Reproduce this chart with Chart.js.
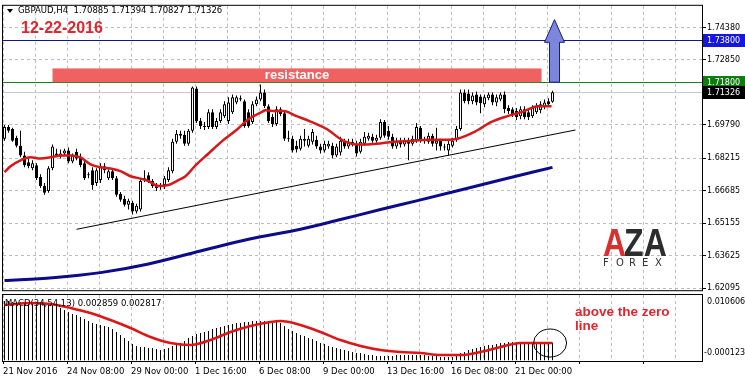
<!DOCTYPE html>
<html>
<head>
<meta charset="utf-8">
<title>GBPAUD H4</title>
<script src="https://cdn.jsdelivr.net/npm/chart.js@4.4.1/dist/chart.umd.min.js"></script>
<style>
  html, body { margin: 0; padding: 0; background: #fff; }
  #wrap { position: relative; width: 745px; height: 382px; overflow: hidden; }
  .pane { position: absolute; left: 0; width: 745px; }
  #main-pane { top: 0; height: 296px; }
  #macd-pane { top: 294px; height: 88px; }
</style>
</head>
<body>
<div id="wrap">
  <div class="pane" id="main-pane"><canvas id="main-chart"></canvas></div>
  <div class="pane" id="macd-pane"><canvas id="macd-chart"></canvas></div>
</div>
<script>
// GBPAUD H4 candles, left to right (bar 0 = 21 Nov 2016)
const open = [
  1.6914,1.6969,1.6960,1.6918,1.6881,1.6835,1.6803,1.6775,1.6789,1.6733,
  1.6691,1.6668,1.6775,1.6844,1.6830,1.6844,1.6858,1.6807,1.6853,1.6830,
  1.6798,1.6747,1.6765,1.6705,1.6719,1.6784,1.6728,1.6761,1.6728,1.6654,
  1.6631,1.6603,1.6612,1.6571,1.6580,1.6719,1.6742,1.6715,1.6696,1.6687,
  1.6696,1.6719,1.6761,1.6900,1.6937,1.6932,1.6890,1.6951,1.7150,1.6997,
  1.6974,1.6969,1.7039,1.6969,1.6997,1.7020,1.6997,1.7039,1.7085,1.7099,
  1.7090,1.7039,1.6993,1.7076,1.7099,1.7132,1.7067,1.7016,1.6983,1.7053,
  1.7034,1.6914,1.6914,1.6881,1.6867,1.6914,1.6881,1.6900,1.6909,1.6877,
  1.6858,1.6877,1.6881,1.6835,1.6849,1.6900,1.6877,1.6900,1.6890,1.6853,
  1.6890,1.6914,1.6923,1.6904,1.6918,1.6993,1.6951,1.6923,1.6877,1.6904,
  1.6886,1.6904,1.6890,1.6904,1.6965,1.6904,1.6900,1.6928,1.6890,1.6904,
  1.6877,1.6858,1.6881,1.6909,1.6960,1.7132,1.7127,1.7090,1.7122,1.7113,
  1.7076,1.7104,1.7122,1.7085,1.7099,1.7122,1.7058,1.7053,1.7044,1.7020,
  1.7053,1.7039,1.7020,1.7039,1.7048,1.7062,1.7090,1.70885
];
const high = [
  1.6979,1.6979,1.6965,1.6928,1.6951,1.6853,1.6821,1.6812,1.6798,1.6747,
  1.6705,1.6784,1.6886,1.6867,1.6863,1.6867,1.6872,1.6844,1.6867,1.6844,
  1.6812,1.6756,1.6779,1.6775,1.6798,1.6798,1.6770,1.6770,1.6738,1.6663,
  1.6645,1.6631,1.6622,1.6608,1.6724,1.6765,1.6756,1.6724,1.6705,1.6705,
  1.6738,1.6779,1.6914,1.6955,1.6951,1.6951,1.6960,1.7160,1.7160,1.7011,
  1.6993,1.7053,1.7053,1.7011,1.7053,1.7090,1.7109,1.7122,1.7118,1.7118,
  1.7099,1.7053,1.7090,1.7113,1.7169,1.7146,1.7076,1.7030,1.7067,1.7062,
  1.7048,1.6951,1.6928,1.6904,1.6928,1.6960,1.6928,1.6960,1.6928,1.6890,
  1.6904,1.6904,1.6895,1.6890,1.6923,1.6914,1.6914,1.6914,1.6904,1.6914,
  1.6946,1.6942,1.6937,1.6932,1.7006,1.7002,1.6974,1.6937,1.6918,1.6918,
  1.6918,1.6918,1.6928,1.6988,1.6974,1.6923,1.6942,1.6937,1.6965,1.6914,
  1.6890,1.6904,1.6918,1.6974,1.7146,1.7146,1.7146,1.7132,1.7136,1.7122,
  1.7122,1.7132,1.7132,1.7122,1.7132,1.7136,1.7071,1.7062,1.7058,1.7067,
  1.7067,1.7053,1.7071,1.7081,1.7090,1.7099,1.7104,1.71394
];
const low = [
  1.6904,1.6942,1.6900,1.6872,1.6826,1.6779,1.6775,1.6765,1.6719,1.6682,
  1.6650,1.6659,1.6765,1.6826,1.6821,1.6835,1.6798,1.6798,1.6812,1.6779,
  1.6719,1.6728,1.6673,1.6691,1.6705,1.6751,1.6719,1.6719,1.6640,1.6617,
  1.6594,1.6580,1.6557,1.6561,1.6571,1.6710,1.6705,1.6682,1.6668,1.6673,
  1.6677,1.6710,1.6751,1.6890,1.6914,1.6881,1.6881,1.6942,1.6988,1.6960,
  1.6955,1.6960,1.6960,1.6960,1.6988,1.7011,1.6983,1.7030,1.7076,1.7090,
  1.6965,1.6965,1.6983,1.7067,1.7090,1.7058,1.6988,1.6969,1.6974,1.7020,
  1.6904,1.6900,1.6849,1.6849,1.6858,1.6877,1.6872,1.6886,1.6867,1.6844,
  1.6849,1.6867,1.6821,1.6826,1.6835,1.6867,1.6867,1.6877,1.6830,1.6844,
  1.6881,1.6904,1.6895,1.6895,1.6909,1.6918,1.6909,1.6867,1.6867,1.6872,
  1.6877,1.6812,1.6881,1.6895,1.6895,1.6890,1.6890,1.6877,1.6858,1.6858,
  1.6858,1.6835,1.6872,1.6900,1.6951,1.7081,1.7076,1.7076,1.7071,1.7034,
  1.7062,1.7095,1.7071,1.7067,1.7090,1.7034,1.7030,1.7016,1.7002,1.7006,
  1.7006,1.7002,1.7011,1.7030,1.7034,1.7053,1.7067,1.70827
];
const close = [
  1.6969,1.6951,1.6904,1.6881,1.6835,1.6789,1.6784,1.6798,1.6728,1.6691,
  1.6659,1.6775,1.6877,1.6835,1.6844,1.6858,1.6807,1.6835,1.6821,1.6789,
  1.6728,1.6742,1.6696,1.6765,1.6784,1.6765,1.6761,1.6728,1.6650,1.6626,
  1.6603,1.6622,1.6571,1.6598,1.6715,1.6728,1.6715,1.6691,1.6682,1.6691,
  1.6728,1.6765,1.6900,1.6937,1.6928,1.6890,1.6951,1.7155,1.6997,1.6974,
  1.6969,1.7039,1.6969,1.6997,1.7039,1.7076,1.7085,1.7109,1.7109,1.7104,
  1.6974,1.6974,1.7076,1.7099,1.7132,1.7067,1.6997,1.6983,1.7053,1.7030,
  1.6914,1.6918,1.6858,1.6863,1.6914,1.6904,1.6914,1.6946,1.6877,1.6858,
  1.6890,1.6890,1.6835,1.6877,1.6904,1.6877,1.6900,1.6890,1.6844,1.6900,
  1.6923,1.6928,1.6904,1.6918,1.6993,1.6928,1.6923,1.6877,1.6904,1.6886,
  1.6904,1.6890,1.6914,1.6969,1.6904,1.6909,1.6928,1.6890,1.6904,1.6877,
  1.6872,1.6890,1.6904,1.6960,1.7132,1.7090,1.7090,1.7118,1.7085,1.7081,
  1.7109,1.7122,1.7085,1.7109,1.7122,1.7053,1.7044,1.7030,1.7016,1.7053,
  1.7016,1.7016,1.7062,1.7067,1.7076,1.7085,1.7076,1.71326
];

// moving averages (bar index -> price)
const maFastIdx = [0,1.5,4,6.5,9,11.5,14,16.5,19,21.5,24,26.5,29,31.5,33.5,36,38.5,41,43.5,45.25,47.75,51,54.25,57.75,61,64.25,65.25,67.75,69.75,73,76.25,80.5,84.75,88.75,93,97.25,102.25,105.75,110.75,113.25,117.5,121.75,125.75,130,133.25,136.75];
const maFastVal = [1.6756,1.6784,1.6812,1.6826,1.6821,1.6826,1.6835,1.6835,1.6826,1.6793,1.6779,1.6774,1.6761,1.6737,1.6728,1.6714,1.6691,1.6696,1.6719,1.6737,1.6788,1.6844,1.6900,1.6951,1.7006,1.7039,1.7048,1.7044,1.7044,1.7020,1.6997,1.6960,1.6904,1.6886,1.6890,1.6900,1.6904,1.6909,1.6909,1.6914,1.6946,1.6993,1.7020,1.7044,1.7067,1.7067];
const maSlowIdx = [0,12,24,36,49,61,74,84,94,103,114,124,137];
const maSlowVal = [1.6246,1.6259,1.6283,1.6324,1.6385,1.6440,1.6487,1.6533,1.6580,1.6621,1.6672,1.6719,1.6779];

// MACD(34,54,13): histogram per bar, signal line read at points
const macdMain = [
  0.00963,0.00963,0.00947,0.00947,0.00947,0.00947,0.00947,0.00931,0.00931,0.00931,
  0.00914,0.00914,0.00898,0.00882,0.00850,0.00817,0.00784,0.00752,0.00736,0.00703,
  0.00671,0.00638,0.00605,0.00589,0.00573,0.00557,0.00540,0.00508,0.00459,0.00411,
  0.00362,0.00313,0.00264,0.00232,0.00215,0.00215,0.00199,0.00199,0.00183,0.00167,
  0.00183,0.00199,0.00232,0.00264,0.00280,0.00313,0.00362,0.00394,0.00427,0.00443,
  0.00459,0.00475,0.00508,0.00524,0.00540,0.00557,0.00573,0.00589,0.00605,0.00605,
  0.00622,0.00622,0.00638,0.00638,0.00638,0.00638,0.00638,0.00638,0.00622,0.00605,
  0.00557,0.00508,0.00475,0.00443,0.00411,0.00394,0.00362,0.00345,0.00313,0.00280,
  0.00264,0.00232,0.00215,0.00199,0.00183,0.00167,0.00150,0.00134,0.00118,0.00118,
  0.00101,0.00085,0.00085,0.00069,0.00069,0.00069,0.00069,0.00069,0.00085,0.00085,
  0.00085,0.00085,0.00085,0.00085,0.00085,0.00085,0.00069,0.00069,0.00069,0.00053,
  0.00053,0.00053,0.00053,0.00085,0.00118,0.00134,0.00167,0.00183,0.00199,0.00215,
  0.00232,0.00248,0.00248,0.00264,0.00280,0.00280,0.00297,0.00297,0.00297,0.00297,
  0.00297,0.00297,0.00297,0.00297,0.00297,0.00297,0.00297,0.002859
];
const macdSignalIdx = [0,6.5,11.5,16.5,21.5,26.5,31.5,36.5,41.5,46.5,51.5,56.5,61.5,66.5,69,74,79,84,89,94,99,104,109,114,119,124,129,134,137];
const macdSignalVal = [0.00898,0.00931,0.00914,0.00850,0.00768,0.00654,0.00524,0.00378,0.00280,0.00248,0.00329,0.00459,0.00557,0.00622,0.00638,0.00573,0.00459,0.00329,0.00232,0.00167,0.00134,0.00118,0.00085,0.00085,0.00134,0.00215,0.00280,0.00280,0.002817];

// axes
const priceTicks = [1.62095, 1.63625, 1.65155, 1.66685, 1.68215, 1.69790, 1.71320, 1.72850, 1.74380];
const timeLabels = ['21 Nov 2016', '24 Nov 08:00', '29 Nov 00:00', '1 Dec 16:00', '6 Dec 08:00',
                    '9 Dec 00:00', '13 Dec 16:00', '16 Dec 08:00', '21 Dec 00:00'];
const macdLabels = ['0.010606', '-0.000123'];

// drawings on the chart
const levelValues = [1.73800, 1.71800, 1.71326];
const trendLine = [[18, 1.6487], [142.75, 1.6955]];
const resistance = { from: 12, to: 134.25, low: 1.7180, high: 1.7245 };
const arrowUp = { bar: 137.5, from: 1.7180, headBase: 1.7368, tip: 1.7475 };
const macdCircle = { bar: 136.4, value: 0.00280 };
const quote = 'GBPAUD,H4  1.70885 1.71394 1.70827 1.71326';
const macdTitle = 'MACD(34,54,13) 0.002859 0.002817';

const MT_FONT = '"DejaVu Sans", Tahoma, sans-serif';
const BOLD_FONT = '"Liberation Sans", Arial, sans-serif';
const GRID = '#bdbdbd';
const X_MIN = -0.375, X_MAX = 174.375;
const gridBars = Array.from({ length: 22 }, (_, k) => k * 8 - 0.375);
const levelStyles = [
  { line: '#14148c', box: '#1616e0' },
  { line: '#148414', box: '#0d7d0d' },
  { line: '#c8c8c8', box: '#000000' }
];

Chart.defaults.font.family = MT_FONT;
const bars = open.map((_, i) => i);

const mainOverlay = {
  id: 'mainOverlay',
  beforeDatasetsDraw(chart) {
    const { ctx, chartArea: a, scales: { x, y } } = chart;
    ctx.save();
    levelValues.forEach((v, k) => {
      const py = Math.round(y.getPixelForValue(v)) + 0.5;
      ctx.strokeStyle = levelStyles[k].line;
      ctx.lineWidth = 1;
      ctx.beginPath();
      ctx.moveTo(a.left, py);
      ctx.lineTo(a.right, py);
      ctx.stroke();
    });
    ctx.restore();
  },
  afterDatasetsDraw(chart) {
    const { ctx, scales: { x, y } } = chart;
    ctx.save();
    // resistance band
    const rx1 = x.getPixelForValue(resistance.from), rx2 = x.getPixelForValue(resistance.to);
    const ry1 = y.getPixelForValue(resistance.high), ry2 = y.getPixelForValue(resistance.low);
    ctx.fillStyle = '#f06262';
    ctx.fillRect(rx1, ry1, rx2 - rx1, ry2 - ry1);
    ctx.fillStyle = '#fff';
    ctx.font = 'bold 13px ' + BOLD_FONT;
    ctx.textAlign = 'center';
    ctx.textBaseline = 'middle';
    ctx.fillText('resistance', (rx1 + rx2) / 2, (ry1 + ry2) / 2);

    // arrow up
    const ax = x.getPixelForValue(arrowUp.bar);
    const yb = y.getPixelForValue(arrowUp.from);
    const yh = y.getPixelForValue(arrowUp.headBase);
    const yt = y.getPixelForValue(arrowUp.tip);
    ctx.beginPath();
    ctx.moveTo(ax - 5, yb);
    ctx.lineTo(ax - 5, yh);
    ctx.lineTo(ax - 10, yh);
    ctx.lineTo(ax, yt);
    ctx.lineTo(ax + 10, yh);
    ctx.lineTo(ax + 5, yh);
    ctx.lineTo(ax + 5, yb);
    ctx.closePath();
    ctx.fillStyle = '#7b86dc';
    ctx.fill();
    ctx.strokeStyle = '#1c1c80';
    ctx.lineWidth = 1;
    ctx.stroke();
    ctx.restore();
  },
  afterDraw(chart) {
    const { ctx, chartArea: a, scales: { y } } = chart;
    ctx.save();
    // price tags on the axis
    ctx.font = '8px ' + MT_FONT;
    ctx.textAlign = 'left';
    ctx.textBaseline = 'middle';
    levelValues.forEach((v, k) => {
      const py = Math.round(y.getPixelForValue(v));
      ctx.fillStyle = levelStyles[k].box;
      ctx.fillRect(a.right + 1, py - 6, 42, 13);
      ctx.fillStyle = '#fff';
      ctx.fillText(v.toFixed(5), a.right + 5, py + 0.5);
    });

    // header
    ctx.fillStyle = '#000';
    ctx.beginPath();
    ctx.moveTo(7, 9); ctx.lineTo(13, 9); ctx.lineTo(10, 13);
    ctx.closePath();
    ctx.fill();
    ctx.font = '8.5px ' + MT_FONT;
    ctx.fillText(quote, 18, 11);

    ctx.fillStyle = '#e0262e';
    ctx.font = 'bold 16px ' + BOLD_FONT;
    ctx.fillText('12-22-2016', 21, 29);

    // logo
    ctx.save();
    ctx.translate(603, 256);
    ctx.scale(1, 1.2);
    ctx.font = 'bold 32px ' + BOLD_FONT;
    ctx.textBaseline = 'alphabetic';
    ctx.fillStyle = '#d9302f';
    ctx.fillText('A', 0, 0);
    const wA = ctx.measureText('A').width;
    ctx.fillStyle = '#2d2d2d';
    ctx.fillText('ZA', wA - 2, 0);
    ctx.restore();
    ctx.fillStyle = '#333';
    ctx.font = '10px ' + MT_FONT;
    'FOREX'.split('').forEach((ch, k) => ctx.fillText(ch, 603 + k * 13, 263));

    // frame
    ctx.strokeStyle = '#000';
    ctx.lineWidth = 1;
    ctx.strokeRect(a.left - 0.5, a.top - 0.5, a.width + 1, a.height + 1);
    ctx.restore();
  }
};

new Chart(document.getElementById('main-chart'), {
  type: 'bar',
  data: {
    datasets: [
      {
        type: 'line', label: 'trend',
        data: trendLine.map(p => ({ x: p[0], y: p[1] })),
        borderColor: '#000', borderWidth: 1, pointRadius: 0, order: 1
      },
      {
        type: 'line', label: 'MA fast',
        data: maFastIdx.map((b, k) => ({ x: b, y: maFastVal[k] })),
        borderColor: '#d81818', borderWidth: 2.5, pointRadius: 0,
        cubicInterpolationMode: 'monotone', order: 2
      },
      {
        type: 'line', label: 'MA slow',
        data: maSlowIdx.map((b, k) => ({ x: b, y: maSlowVal[k] })),
        borderColor: '#0b0b8c', borderWidth: 3, pointRadius: 0,
        cubicInterpolationMode: 'monotone', order: 3
      },
      {
        label: 'body',
        data: bars.map(i => ({ x: i, y: [open[i], close[i]] })),
        backgroundColor: bars.map(i => close[i] >= open[i] ? '#fff' : '#000'),
        borderColor: '#000', borderWidth: 1, borderSkipped: false,
        barThickness: 3, grouped: false, inflateAmount: 0, order: 4
      },
      {
        label: 'wick',
        data: bars.map(i => ({ x: i, y: [low[i], high[i]] })),
        backgroundColor: '#000', borderWidth: 0,
        barThickness: 1, grouped: false, inflateAmount: 0, order: 5
      }
    ]
  },
  options: {
    responsive: true,
    maintainAspectRatio: false,
    animation: false,
    events: [],
    layout: { padding: { left: 3, top: 3, right: 0, bottom: 4 } },
    plugins: { legend: { display: false }, tooltip: { enabled: false } },
    scales: {
      x: {
        type: 'linear', min: X_MIN, max: X_MAX, offset: false,
        afterBuildTicks: s => { s.ticks = gridBars.map(v => ({ value: v })); },
        afterFit: s => { s.height = 0; },
        ticks: { display: false },
        grid: { color: GRID, offset: false, drawTicks: false },
        border: { display: false, dash: [3, 3] }
      },
      y: {
        position: 'right', min: 1.62002, max: 1.75400, beginAtZero: false,
        afterBuildTicks: s => { s.ticks = priceTicks.map(v => ({ value: v })); },
        afterFit: s => { s.width = 43; },
        ticks: { color: '#000', font: { size: 8 }, padding: 1, callback: v => v.toFixed(5) },
        grid: { color: GRID, tickColor: '#000', tickLength: 4 },
        border: { display: false, dash: [3, 3] }
      }
    }
  },
  plugins: [mainOverlay]
});

const macdOverlay = {
  id: 'macdOverlay',
  afterDraw(chart) {
    const { ctx, chartArea: a, scales: { x, y } } = chart;
    ctx.save();
    ctx.fillStyle = '#000';
    ctx.font = '8.5px ' + MT_FONT;
    ctx.textAlign = 'left';
    ctx.textBaseline = 'middle';
    ctx.fillText(macdTitle, 5, 10);
    ctx.font = '8px ' + MT_FONT;
    ctx.fillText(macdLabels[0], a.right + 5, 8);
    ctx.fillText(macdLabels[1], a.right + 2, 59);

    // circle around the last bars
    ctx.strokeStyle = '#000';
    ctx.lineWidth = 1;
    ctx.beginPath();
    ctx.ellipse(x.getPixelForValue(macdCircle.bar), y.getPixelForValue(macdCircle.value), 16.5, 14, 0, 0, Math.PI * 2);
    ctx.stroke();

    ctx.fillStyle = '#e0262e';
    ctx.font = 'bold 13.5px ' + BOLD_FONT;
    ctx.fillText('above the zero', 575, 18);
    ctx.fillText('line', 575, 32);

    ctx.strokeRect(a.left - 0.5, a.top - 0.5, a.width + 1, a.height + 1);
    ctx.restore();
  }
};

new Chart(document.getElementById('macd-chart'), {
  type: 'bar',
  data: {
    datasets: [
      {
        type: 'line', label: 'signal',
        data: macdSignalIdx.map((b, k) => ({ x: b, y: macdSignalVal[k] })),
        borderColor: '#e01515', borderWidth: 2.5, pointRadius: 0,
        cubicInterpolationMode: 'monotone', order: 1
      },
      {
        label: 'MACD',
        data: bars.map(i => ({ x: i, y: macdMain[i] })),
        backgroundColor: '#000', borderWidth: 0,
        barThickness: 1, grouped: false, inflateAmount: 0, order: 2
      }
    ]
  },
  options: {
    responsive: true,
    maintainAspectRatio: false,
    animation: false,
    events: [],
    layout: { padding: { left: 3, top: 1, right: 0, bottom: 0 } },
    plugins: { legend: { display: false }, tooltip: { enabled: false } },
    scales: {
      x: {
        type: 'linear', min: X_MIN, max: X_MAX, offset: false,
        afterBuildTicks: s => { s.ticks = gridBars.map(v => ({ value: v })); },
        afterFit: s => { s.height = 21; },
        ticks: {
          autoSkip: false, maxRotation: 0, minRotation: 0, align: 'start', padding: 3,
          color: '#000', font: { size: 8.5 },
          callback: (v, k) => k % 2 === 0 ? (timeLabels[k / 2] || '') : ''
        },
        grid: {
          color: GRID, offset: false, tickLength: 3,
          tickColor: c => c.index % 2 === 0 ? '#000' : 'rgba(0,0,0,0)'
        },
        border: { display: false, dash: [3, 3] }
      },
      y: {
        position: 'right', min: -0.000123, max: 0.010606, beginAtZero: false,
        afterFit: s => { s.width = 43; },
        ticks: { display: false },
        grid: { display: false },
        border: { display: false }
      }
    }
  },
  plugins: [macdOverlay]
});
</script>
</body>
</html>
